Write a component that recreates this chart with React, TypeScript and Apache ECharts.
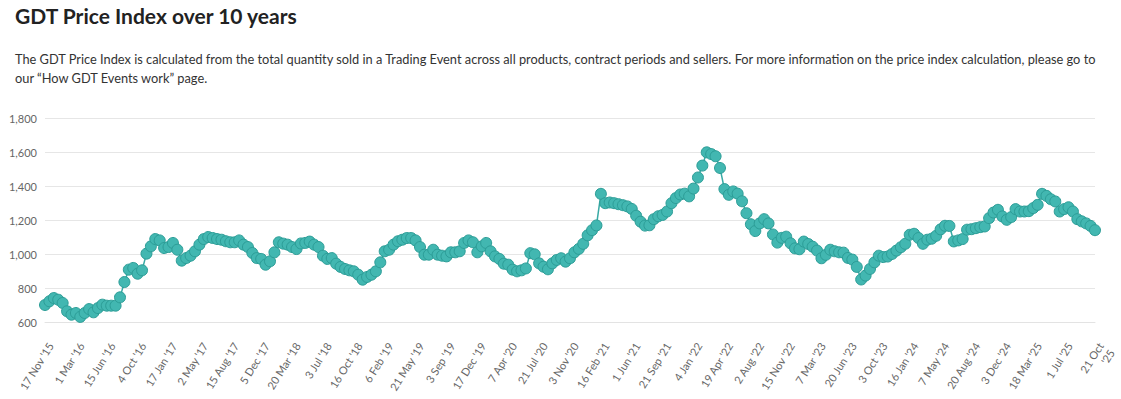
import React, { useEffect, useRef } from "react";
import * as echarts from "echarts";

const TITLE = "GDT Price Index over 10 years";
const DESC_LINE1 =
  "The GDT Price Index is calculated from the total quantity sold in a Trading Event across all products, contract periods and sellers. For more information on the price index calculation, please go to";
const DESC_LINE2 = "our \u201cHow GDT Events work\u201d page.";

const tickLabels = [
  "17 Nov '15", "1 Mar '16", "15 Jun '16", "4 Oct '16", "17 Jan '17", "2 May '17", "15 Aug '17",
  "5 Dec '17", "20 Mar '18", "3 Jul '18", "16 Oct '18", "6 Feb '19", "21 May '19", "3 Sep '19",
  "17 Dec '19", "7 Apr '20", "21 Jul '20", "3 Nov '20", "16 Feb '21", "1 Jun '21", "21 Sep '21",
  "4 Jan '22", "19 Apr '22", "2 Aug '22", "15 Nov '22", "7 Mar '23", "20 Jun '23", "3 Oct '23",
  "16 Jan '24", "7 May '24", "20 Aug '24", "3 Dec '24", "18 Mar '25", "1 Jul '25", "21 Oct\n'25",
];
const tickEvery = 7;

const values2015to2018 = [
  700, 722, 741, 731, 712, 663, 643, 653, 630, 653,
  676, 657, 682, 702, 696, 696, 696, 745, 835, 908,
  918, 884, 904, 1002, 1045, 1088, 1080, 1035, 1041, 1065,
  1025, 961, 976, 990, 1016, 1055, 1088, 1100, 1094, 1088,
  1084, 1075, 1069, 1069, 1080, 1055, 1041, 1006, 976, 971,
  937, 957, 1010, 1069, 1061, 1055, 1041, 1029, 1062, 1065,
];
const values2018to2020 = [
  1073, 1055, 1041, 990, 971, 976, 943, 924, 912, 904,
  898, 878, 849, 865, 878, 898, 951, 1016, 1025, 1055,
  1075, 1084, 1094, 1094, 1080, 1041, 996, 996, 1025, 996,
  990, 986, 1010, 1010, 1016, 1065, 1080, 1069, 1010, 1045,
  1065, 1016, 986, 971, 943, 937, 908, 898, 904, 915,
  1005, 998, 945, 925, 910, 945, 965, 975, 955, 975,
];
const values2020to2023 = [
  1010, 1030, 1060, 1110, 1140, 1168, 1354, 1299, 1303, 1299,
  1293, 1287, 1280, 1265, 1225, 1190, 1167, 1169, 1205, 1222,
  1230, 1250, 1299, 1329, 1350, 1355, 1339, 1385, 1450, 1520,
  1598, 1588, 1575, 1506, 1382, 1348, 1368, 1355, 1310, 1240,
  1175, 1135, 1180, 1205, 1180, 1115, 1067, 1095, 1102, 1063,
  1033, 1028, 1073, 1059, 1043, 1020, 975, 995, 1025, 1016,
];
const values2023to2025 = [
  1010, 1008, 977, 967, 924, 850, 873, 912, 951, 990,
  982, 985, 1000, 1020, 1040, 1060, 1113, 1119, 1094, 1060,
  1084, 1090, 1107, 1145, 1166, 1165, 1074, 1080, 1088, 1143,
  1146, 1152, 1158, 1162, 1211, 1244, 1260, 1221, 1201, 1217,
  1264, 1250, 1250, 1252, 1270, 1289, 1354, 1342, 1322, 1309,
  1250, 1264, 1275, 1250, 1205, 1192, 1180, 1165, 1140,
];

const priceIndex = [
  ...values2015to2018,
  ...values2018to2020,
  ...values2020to2023,
  ...values2023to2025,
];

export default function App() {
  const ref = useRef<HTMLDivElement>(null);

  useEffect(() => {
    document.body.style.margin = "0";
    if (!ref.current) return;
    const chart = echarts.init(ref.current, null, { renderer: "svg" });
    const font = "Lato, 'Open Sans', sans-serif";
    chart.setOption({
      animation: false,
      textStyle: { fontFamily: font },
      graphic: [
        {
          type: "text",
          left: 15,
          top: 5,
          style: { text: TITLE, fontSize: 21, fontWeight: "bold", fill: "#222", fontFamily: font },
        },
        {
          type: "text",
          left: 15,
          top: 52,
          style: { text: DESC_LINE1, fontSize: 12.8, fill: "#333", fontFamily: font },
        },
        {
          type: "text",
          left: 15,
          top: 71,
          style: { text: DESC_LINE2, fontSize: 12.8, fill: "#333", fontFamily: font },
        },
      ],
      grid: { left: 45, right: 26, top: 118, bottom: 77, containLabel: false },
      xAxis: {
        type: "category",
        boundaryGap: false,
        data: priceIndex.map((_, i) => String(i)),
        axisLine: { show: true, lineStyle: { color: "#e3e3e3", width: 1 } },
        axisTick: { show: false },
        splitLine: { show: false },
        axisLabel: {
          interval: tickEvery - 1,
          rotate: 58,
          margin: 18,
          verticalAlign: "top",
          color: "#666",
          fontSize: 11,
          fontFamily: font,
          lineHeight: 13,
          formatter: (_v: string, idx: number) => tickLabels[Math.round(idx / tickEvery)] ?? "",
        },
      },
      yAxis: {
        type: "value",
        min: 600,
        max: 1800,
        interval: 200,
        axisLine: { show: false },
        axisTick: { show: false },
        splitLine: { lineStyle: { color: "#e6e6e6", width: 1 } },
        axisLabel: {
          color: "#666",
          fontSize: 11,
          fontFamily: font,
          margin: 8,
          formatter: (v: number) => v.toLocaleString("en-US"),
        },
      },
      series: [
        {
          type: "line",
          data: priceIndex,
          symbol: "circle",
          symbolSize: 11,
          showAllSymbol: true,
          lineStyle: { color: "#38aaa5", width: 1.5 },
          itemStyle: { color: "#42b7b1", borderColor: "#2c9d97", borderWidth: 1 },
        },
      ],
    });
    return () => chart.dispose();
  }, []);

  return (
    <div
      ref={ref}
      style={{ position: "absolute", left: 0, top: 0, width: 1121, height: 399 }}
    />
  );
}
